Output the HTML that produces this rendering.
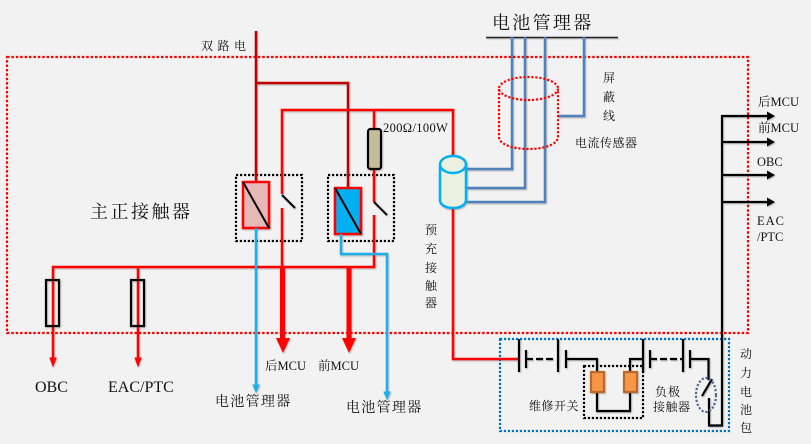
<!DOCTYPE html>
<html><head><meta charset="utf-8"><style>
html,body{margin:0;padding:0;background:#f2f2f2;width:811px;height:444px;overflow:hidden}
svg{display:block}
text{font-family:"Liberation Serif","Noto Serif CJK SC",serif;fill:#111}
</style></head><body>
<svg width="811" height="444" viewBox="0 0 811 444" xmlns="http://www.w3.org/2000/svg">
<defs>
<filter id="s" x="-5%" y="-5%" width="110%" height="110%"><feDropShadow dx="0.800" dy="1" stdDeviation="0.800" flood-color="#000" flood-opacity="0.280"/></filter>
</defs>
<rect width="811" height="444" fill="#f2f2f2"/>
<!-- boxes -->
<rect x="7" y="57" width="741" height="276" fill="none" stroke="#f00" stroke-width="2.200" stroke-dasharray="2.500 1.900"/>
<rect x="500" y="339" width="229" height="92" fill="none" stroke="#0070c0" stroke-width="2.200" stroke-dasharray="2.200 1.800"/>
<rect x="236" y="175" width="66" height="66" fill="none" stroke="#000" stroke-width="2.200" stroke-dasharray="2.200 1.800"/>
<rect x="328" y="175" width="66" height="66" fill="none" stroke="#000" stroke-width="2.200" stroke-dasharray="2.200 1.800"/>
<rect x="584" y="366" width="59" height="52" fill="none" stroke="#000" stroke-width="2.200" stroke-dasharray="2.200 1.800"/>
<g filter="url(#s)">
<!-- wires -->
<g fill="none" stroke-width="2.500">
<path d="M256 31V182M256 83H348V188" stroke="#c00000"/>
<path d="M282 194V110H453V156M374 110V129M374 169V202M282 208V267M374 215V267H53V359M53 267M138 267V359M453 208V359H518" stroke="#f00"/>
</g>
<path d="M50 358L53 366L56 358ZM135 358L138 366L141 358Z" fill="#f00" stroke="#f00"/>
<path d="M282.500 267V339M349 267V339" stroke="#f00" stroke-width="5" fill="none"/>
<path d="M276 338H290L283 353ZM342 338H356L349 353Z" fill="#f00"/>
<!-- relays -->
<rect x="243" y="182" width="26" height="46" fill="#e6b8b7" stroke="#f00" stroke-width="2.500"/>
<path d="M243 182L269 228" stroke="#000" stroke-width="2"/>
<rect x="335" y="188" width="26" height="46" fill="#00b0f0" stroke="#f00" stroke-width="2.500"/>
<path d="M335 188L361 234" stroke="#000" stroke-width="2"/>
<path d="M282 195L295 208M374 202L387 215" stroke="#000" stroke-width="2"/>
<!-- resistor -->
<rect x="368" y="129" width="13" height="40" rx="2.500" fill="#c4bd97" stroke="#000" stroke-width="2.200"/>
<!-- fuses -->
<rect x="46" y="280" width="13" height="46" fill="none" stroke="#000" stroke-width="2.200"/>
<rect x="131" y="280" width="13" height="46" fill="none" stroke="#000" stroke-width="2.200"/>
<!-- sky wires -->
<g fill="none" stroke="#1cafe8" stroke-width="2.500">
<path d="M256 228V385M341 234V254H387V392"/>
</g>
<path d="M253 385L256 392L259 385ZM384 392L387 399L390 392Z" fill="#1cafe8" stroke="#1cafe8"/>
<!-- BMS -->
<path d="M486 37.500H618" stroke="#222" stroke-width="1.500"/>
<g fill="none" stroke="#4f81bd" stroke-width="2.500">
<path d="M512 37V169H466M525 37V188H466M545 37V202H466M584 37V116H558"/>
</g>
<!-- sensor cylinder -->
<path d="M440 165V200C440 205 446 208 453 208C460 208 466 205 466 200V165" fill="#ebf1de" stroke="#00b0f0" stroke-width="2.500"/>
<ellipse cx="453" cy="164.500" rx="13" ry="8.500" fill="#ebf1de" stroke="#00b0f0" stroke-width="2.500"/>
<!-- battery -->
<g fill="none" stroke="#000" stroke-width="2.200">
<path d="M519 339V372M526 350V368M558 339V372M566 350V368M643 339V372M650 350V368M683 339V372M690 350V368"/>
<path d="M526 359H556M650 359H682" stroke-dasharray="7 3"/>
<path d="M566 359H597V372M597 392V411H630V392M630 372V359H643M690 359H708.500V380M712 379L702 396M709 398V425.500H722V115"/>
</g>
<rect x="591" y="372" width="13" height="20" fill="#f79646" stroke="#b9692f" stroke-width="2.200"/>
<rect x="624" y="372" width="13" height="20" fill="#f79646" stroke="#b9692f" stroke-width="2.200"/>
<!-- right arrows -->
<g fill="none" stroke="#000" stroke-width="2.200">
<path d="M721 116H770M722 142H770M722 175H770M722 202H770"/>
</g>
<path d="M767 111.500L775 116L767 120.500ZM767 137.500L775 142L767 146.500ZM767 170.500L775 175L767 179.500ZM767 197.500L775 202L767 206.500Z" fill="#000"/>
</g>
<!-- dotted cylinder -->
<g fill="none" stroke="#f00" stroke-width="2.200" stroke-dasharray="2.200 1.800">
<ellipse cx="528.500" cy="88.500" rx="29.500" ry="11.500"/>
<path d="M499 89V137C499 144 512 149 528.500 149C545 149 558 144 558 137V89"/>
</g>
<ellipse cx="706" cy="395" rx="10" ry="17" fill="none" stroke="#4f6a94" stroke-width="2.200" stroke-dasharray="2.200 1.800"/>
<!-- text -->
<text x="492" y="29" font-size="18" letter-spacing="2.300">电池管理器</text>
<text x="201" y="50" font-size="12" letter-spacing="4.500">双路电</text>
<text x="90" y="218" font-size="18" letter-spacing="2.500">主正接触器</text>
<text x="383" y="132" font-size="12.500" letter-spacing="0.350">200Ω/100W</text>
<text x="603" y="82" font-size="12">屏</text>
<text x="603" y="101" font-size="12">蔽</text>
<text x="603" y="120" font-size="12">线</text>
<text x="575" y="147" font-size="12" letter-spacing="0.500">电流传感器</text>
<text x="425" y="234" font-size="12">预</text>
<text x="425" y="253" font-size="12">充</text>
<text x="425" y="272" font-size="12">接</text>
<text x="425" y="290" font-size="12">触</text>
<text x="425" y="307" font-size="12">器</text>
<text x="35" y="392" font-size="16">OBC</text>
<text x="108" y="392" font-size="16">EAC/PTC</text>
<text x="265" y="370" font-size="12.500">后MCU</text>
<text x="318" y="370" font-size="12.500">前MCU</text>
<text x="215" y="406" font-size="14" letter-spacing="1.300">电池管理器</text>
<text x="346" y="412" font-size="14" letter-spacing="1.300">电池管理器</text>
<text x="529" y="410" font-size="12" letter-spacing="0.500">维修开关</text>
<text x="655" y="396" font-size="12" letter-spacing="1">负极</text>
<text x="653" y="411" font-size="12" letter-spacing="0.500">接触器</text>
<text x="740" y="358" font-size="12">动</text>
<text x="740" y="377" font-size="12">力</text>
<text x="740" y="396" font-size="12">电</text>
<text x="740" y="414" font-size="12">池</text>
<text x="740" y="432" font-size="12">包</text>
<text x="758" y="106" font-size="12.500">后MCU</text>
<text x="758" y="132" font-size="12.500">前MCU</text>
<text x="757" y="166" font-size="12.500">OBC</text>
<text x="757" y="225" font-size="12.500" letter-spacing="1">EAC</text>
<text x="757" y="241" font-size="12.500">/PTC</text>
</svg>
</body></html>
